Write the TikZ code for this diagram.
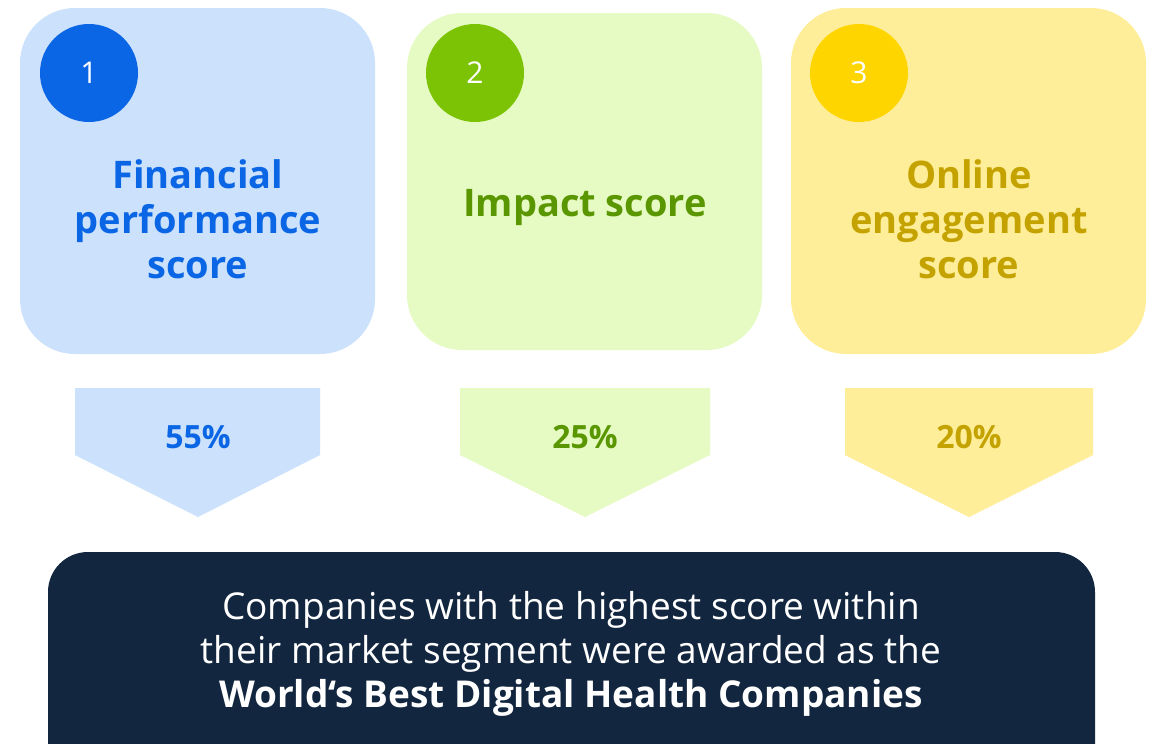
\documentclass[tikz,border=0pt]{standalone}
\usepackage{fontspec}
\setmainfont{Open Sans}
\definecolor{bluebg}{HTML}{CCE1FC}
\definecolor{bluedk}{HTML}{0A66E4}
\definecolor{greenbg}{HTML}{E6FBC4}
\definecolor{greendk}{HTML}{7DC305}
\definecolor{greentx}{HTML}{5A9600}
\definecolor{yellowbg}{HTML}{FFEE99}
\definecolor{yellowdk}{HTML}{FFD500}
\definecolor{yellowtx}{HTML}{C4A300}
\definecolor{navy}{HTML}{12263F}
\begin{document}
\begin{tikzpicture}[x=1pt,y=-1pt,
  card/.style={rectangle,rounded corners=55pt,minimum width=355pt,inner sep=0pt},
  num/.style={circle,minimum size=98pt,inner sep=0pt,text=white,font=\fontsize{30}{32}\selectfont},
  title/.style={align=center,font=\bfseries\fontsize{38}{45}\selectfont},
  pct/.style={font=\bfseries\fontsize{32}{34}\selectfont}]
\clip (0,0) rectangle (1157,744);
\fill[white] (0,0) rectangle (1157,744);
% cards
\node[card,fill=bluebg,minimum height=346pt] (c1) at (197.5,181) {};
\node[card,fill=greenbg,minimum height=337pt] (c2) at (584.5,181.5) {};
\node[card,fill=yellowbg,minimum height=346pt] (c3) at (968.5,181) {};
% circles
\node[num,fill=bluedk] (n1) at (89,73) {1};
\node[num,fill=greendk] (n2) at (475,73) {2};
\node[num,fill=yellowdk] (n3) at (859,73) {3};
% titles
\node[title,text=bluedk] (t1) at (198,219) {Financial\\performance\\score};
\node[title,text=greentx] (t2) at (585,207) {Impact score};
\node[title,text=yellowtx] (t3) at (969,219) {Online\\engagement\\score};
% arrows
\fill[bluebg] (75,388) -- (320,388) -- (320,455) -- (198,517) -- (75,455) -- cycle;
\fill[greenbg] (460,388) -- (710,388) -- (710,455) -- (585,517) -- (460,455) -- cycle;
\fill[yellowbg] (845,388) -- (1093,388) -- (1093,455) -- (969,517) -- (845,455) -- cycle;
\node[pct,text=bluedk] (p1) at (198,437) {55\%};
\node[pct,text=greentx] (p2) at (585,437) {25\%};
\node[pct,text=yellowtx] (p3) at (969,437) {20\%};
% bottom box
\fill[navy,rounded corners=40pt] (48,552) rectangle (1095,800);
\node[align=center,text=white,font=\fontsize{37}{44}\selectfont] (summary) at (571,654)
  {Companies with the highest score within\\their market segment were awarded as the\\\textbf{World‘s Best Digital Health Companies}};
\end{tikzpicture}
\end{document}
